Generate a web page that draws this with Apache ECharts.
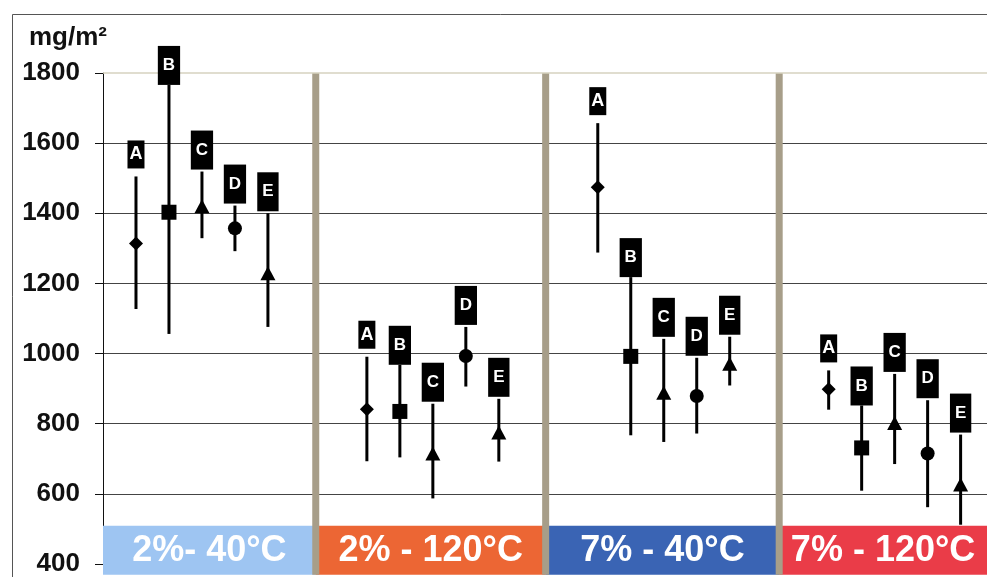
<!DOCTYPE html>
<html>
<head>
<meta charset="utf-8">
<script src="https://cdn.jsdelivr.net/npm/echarts@6/dist/echarts.min.js"></script>
<style>
html,body{margin:0;padding:0;background:#fff;}
#chart{width:987px;height:577px;}
</style>
</head>
<body>
<div id="chart"></div>
<script>
// ---- data ----
var categories = ['2%- 40°C', '2% - 120°C', '7% - 40°C', '7% - 120°C'];
var letters = ['A', 'B', 'C', 'D', 'E'];
var yTicks = [400, 600, 800, 1000, 1200, 1400, 1600, 1800];
// mean values per letter, one per category
var meanA = [1314, 841, 1474, 898];
var meanB = [1403, 835, 992, 731];
var meanC = [1420, 715, 888, 802];
var meanD = [1357, 993, 879, 715];
var meanE = [1229, 775, 971, 627];
// upper ends of error bars
var highA = [1505, 991, 1657, 952];
var highB = [1766, 968, 1218, 852];
var highC = [1519, 857, 1042, 942];
var highD = [1422, 1076, 988, 867];
var highE = [1400, 871, 1048, 769];
// lower ends of error bars
var lowA = [1127, 693, 1288, 840];
var lowB = [1056, 704, 767, 609];
var lowC = [1329, 587, 748, 685];
var lowD = [1292, 906, 772, 562];
var lowE = [1076, 692, 909, 512];

// ---- layout helpers ----
var slotsPerGroup = 7;
var separators = [6.45, 13.42, 20.5];
var xMax = 26.8;
var bandTop = 509;
var bandBottom = 369;
var bandColors = ['#9ec5f2', '#ec6634', '#3a64b4', '#ea3c48'];
var symbols = ['diamond', 'rect', 'triangle', 'circle', 'triangle'];
var symbolSizes = [[14, 14], 15, [15, 14], 14, [15, 14]];
var FONT = '"Liberation Sans", Arial, sans-serif';

var means = [meanA, meanB, meanC, meanD, meanE];
var highs = [highA, highB, highC, highD, highE];
var lows = [lowA, lowB, lowC, lowD, lowE];

function xPos(g, i) { return slotsPerGroup * g + i + 1; }

var bandEdges = [0].concat(separators).concat([xMax]);
var bandData = categories.map(function (c, g) { return [bandEdges[g], bandEdges[g + 1], g]; });

var series = [];

// category bands (also carries the light top grid line)
series.push({
  type: 'custom',
  clip: false,
  z: 1,
  silent: true,
  data: bandData,
  renderItem: function (params, api) {
    var p0 = api.coord([api.value(0), bandTop]);
    var p1 = api.coord([api.value(1), bandBottom]);
    var g = api.value(2);
    return {
      type: 'group',
      children: [
        { type: 'rect', shape: { x: p0[0], y: p0[1], width: p1[0] - p0[0], height: p1[1] - p0[1] },
          style: { fill: bandColors[g] } },
        { type: 'text', style: { text: categories[g], x: (p0[0] + p1[0]) / 2, y: (p0[1] + p1[1]) / 2 + 1,
          align: 'center', verticalAlign: 'middle', fill: '#ffffff',
          font: 'bold 36px ' + FONT } }
      ]
    };
  },
  markLine: {
    silent: true, symbol: 'none', label: { show: false },
    lineStyle: { color: '#d6d2bf', width: 1.5, type: 'solid' },
    data: [{ yAxis: yTicks[yTicks.length - 1] }]
  }
});

// separators
series.push({
  type: 'custom',
  clip: false,
  z: 2,
  silent: true,
  data: separators.map(function (s) { return [s]; }),
  renderItem: function (params, api) {
    var top = api.coord([api.value(0), yTicks[yTicks.length - 1]]);
    var bot = api.coord([api.value(0), bandBottom]);
    return { type: 'rect', shape: { x: top[0] - 3.5, y: top[1], width: 7, height: bot[1] - top[1] },
      style: { fill: '#a79e89' } };
  }
});

letters.forEach(function (L, i) {
  var errData = [], ptData = [], lblData = [];
  for (var g = 0; g < categories.length; g++) {
    var x = xPos(g, i);
    errData.push([x, lows[i][g], highs[i][g]]);
    ptData.push([x, means[i][g]]);
    lblData.push([x, highs[i][g]]);
  }
  // error bars
  series.push({
    type: 'custom', name: L + ' range', clip: false, z: 3, silent: true,
    data: errData,
    renderItem: function (params, api) {
      var a = api.coord([api.value(0), api.value(1)]);
      var b = api.coord([api.value(0), api.value(2)]);
      return { type: 'line', shape: { x1: a[0], y1: a[1], x2: b[0], y2: b[1] },
        style: { stroke: '#000', lineWidth: 3 } };
    }
  });
  // means
  series.push({
    type: 'scatter', name: L, z: 4, clip: false, silent: true,
    symbol: symbols[i], symbolSize: symbolSizes[i],
    itemStyle: { color: '#000', opacity: 1 },
    data: ptData
  });
  // letter boxes
  var isA = (i === 0);
  series.push({
    type: 'scatter', name: L + ' label', z: 5, clip: false, silent: true,
    symbolSize: 0,
    itemStyle: { opacity: 1, color: '#000' },
    data: lblData,
    label: {
      show: true, position: 'top', distance: isA ? 8 : (i === 1 ? 0 : 2),
      formatter: L, opacity: 1,
      color: '#fff', backgroundColor: '#000',
      fontFamily: FONT, fontWeight: 'bold',
      fontSize: isA ? 18 : 17, lineHeight: isA ? 18 : 17,
      padding: isA ? [5, 2, 5, 2] : [11, 5, 11, 5]
    }
  });
});

var chart = echarts.init(document.getElementById('chart'), null, { renderer: 'canvas' });
chart.setOption({
  backgroundColor: '#fff',
  animation: false,
  title: {
    text: 'mg/m²', left: 24, top: 20,
    textStyle: { fontSize: 26, fontWeight: 'bold', color: '#111', fontFamily: FONT }
  },
  graphic: [{
    type: 'rect', left: 10, top: 12, silent: true, z: -1,
    shape: { width: 1000, height: 600 },
    style: { fill: 'none', stroke: '#555', lineWidth: 1 }
  }],
  grid: { left: 103, right: 0, top: 73, bottom: 11 },
  xAxis: { type: 'value', min: 0, max: xMax, show: false },
  yAxis: {
    type: 'value', min: yTicks[0], max: yTicks[yTicks.length - 1], interval: 200,
    axisLine: { show: true, lineStyle: { color: '#111', width: 1 } },
    axisTick: { show: true, length: 8, lineStyle: { color: '#111' } },
    axisLabel: { margin: 23, fontSize: 26, fontWeight: 'bold', color: '#111',
      fontFamily: FONT, formatter: function (v) { return String(v); } },
    splitLine: { show: true, showMaxLine: false, lineStyle: { color: '#444', width: 1 } }
  },
  series: series
});
</script>
</body>
</html>
